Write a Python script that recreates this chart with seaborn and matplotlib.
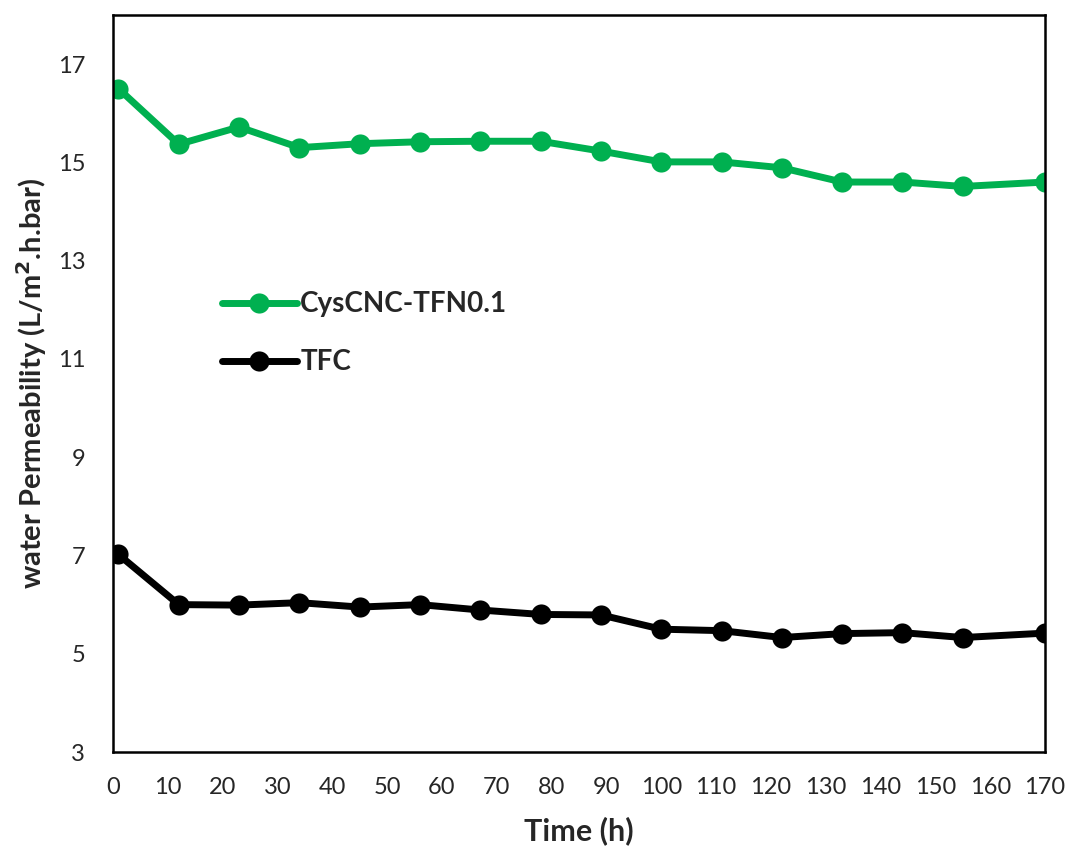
import matplotlib
matplotlib.use("Agg")
import matplotlib.pyplot as plt
import seaborn as sns
import pandas as pd

# Operating time (h) and water permeability for each membrane
time_h = [1, 12, 23, 34, 45, 56, 67, 78, 89, 100, 111, 122, 133, 144, 155, 170]
cyscnc_tfn = [16.5, 15.37, 15.72, 15.3, 15.38, 15.42, 15.43, 15.43, 15.23,
              15.01, 15.01, 14.89, 14.6, 14.6, 14.51, 14.6]
tfc = [7.02, 6.0, 5.99, 6.04, 5.95, 6.0, 5.89, 5.8, 5.79,
       5.5, 5.47, 5.33, 5.41, 5.43, 5.33, 5.42]
series_names = ["CysCNC-TFN0.1", "TFC"]
x_ticks = list(range(0, 171, 10))
y_ticks = [3, 5, 7, 9, 11, 13, 15, 17]

df = pd.concat([
    pd.DataFrame({"Time": time_h, "Permeability": cyscnc_tfn, "Membrane": series_names[0]}),
    pd.DataFrame({"Time": time_h, "Permeability": tfc, "Membrane": series_names[1]}),
])

sns.set_theme(style="white")
plt.rcParams["font.family"] = ["Lato", "DejaVu Sans"]

fig = plt.figure(figsize=(10.71, 8.51), dpi=100)
ax = fig.add_axes([0.1055, 0.1163, 0.8702, 0.8661])

palette = {series_names[0]: "#00B050", series_names[1]: "#000000"}
sns.lineplot(data=df, x="Time", y="Permeability", hue="Membrane",
             palette=palette, marker="o", markersize=14.5, linewidth=5,
             markeredgewidth=0, dashes=False, ax=ax, legend=True)

ax.set_xlim(0, 170)
ax.set_ylim(3, 18)
ax.set_xticks(x_ticks)
ax.set_yticks(y_ticks)
ax.tick_params(axis="both", direction="in", length=7, width=1.5,
               labelsize=17, color="black", labelcolor="#262626")
ax.tick_params(axis="x", pad=18)
ax.tick_params(axis="y", pad=20)
for s in ax.spines.values():
    s.set_color("black")
    s.set_linewidth(1.8)

ax.set_xlabel("Time (h)", fontsize=22, fontweight="bold")
ax.set_ylabel("water Permeability (L/m$^{\\mathbf{2}}$.h.bar)", fontsize=21,
              fontweight="bold")
ax.yaxis.set_label_coords(-0.069, 0.5)
ax.xaxis.set_label_coords(0.5, -0.087)

leg = ax.legend(loc="upper left", bbox_to_anchor=(0.105, 0.64), frameon=False,
                handlelength=2.7, handletextpad=0.12, labelspacing=1.15,
                prop={"weight": "bold", "size": 20}, borderaxespad=0)

fig.savefig("out.png", dpi=100, facecolor="white")
